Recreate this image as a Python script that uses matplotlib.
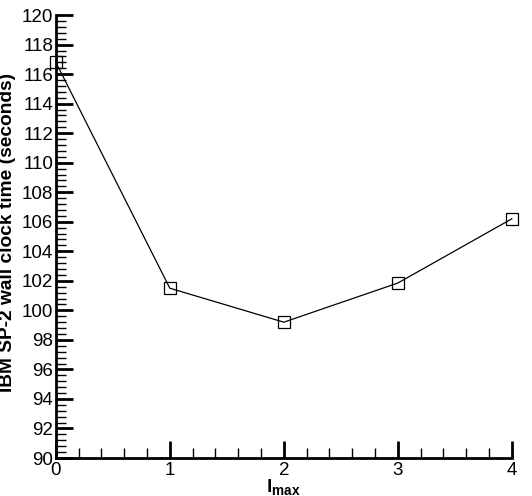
import matplotlib

matplotlib.use("Agg")
import matplotlib.pyplot as plt
from matplotlib.ticker import MultipleLocator

# values
l_max = [0, 1, 2, 3, 4]
wall_time = [116.8, 101.5, 99.2, 101.85, 106.2]

plt.rcParams["font.family"] = ["Liberation Sans", "DejaVu Sans"]
plt.rcParams["mathtext.fontset"] = "custom"
plt.rcParams["mathtext.rm"] = "Liberation Sans"
plt.rcParams["mathtext.bf"] = "Liberation Sans:bold"

fig = plt.figure(figsize=(5.32, 4.96), dpi=100)
ax = fig.add_axes([0.105, 0.0766, 0.857, 0.893])

ax.plot(l_max, wall_time, color="black", linewidth=0.9, marker="s",
        markersize=9, markerfacecolor="none", markeredgecolor="black",
        markeredgewidth=0.9, clip_on=False, zorder=3)

ax.set_xlim(0, 4)
ax.set_ylim(90, 120)
ax.xaxis.set_major_locator(MultipleLocator(1))
ax.xaxis.set_minor_locator(MultipleLocator(0.2))
ax.yaxis.set_major_locator(MultipleLocator(2))
ax.yaxis.set_minor_locator(MultipleLocator(0.4))

for side in ("top", "right"):
    ax.spines[side].set_visible(False)
for side in ("left", "bottom"):
    ax.spines[side].set_linewidth(2)

ax.tick_params(which="major", direction="in", length=12, width=2,
               labelsize=13.5, pad=3)
ax.tick_params(which="minor", direction="in", length=7, width=1)
ax.tick_params(axis="y", which="both", pad=2)

ax.set_ylabel("IBM SP-2 wall clock time (seconds)", fontsize=13.8,
              fontweight="bold", va="center")
ax.yaxis.set_label_coords(-0.106, 0.51)
ax.set_xlabel(r"$\mathbf{l}_{\mathbf{max}}$", fontsize=14, labelpad=-1)

fig.savefig("out.png", dpi=100)
